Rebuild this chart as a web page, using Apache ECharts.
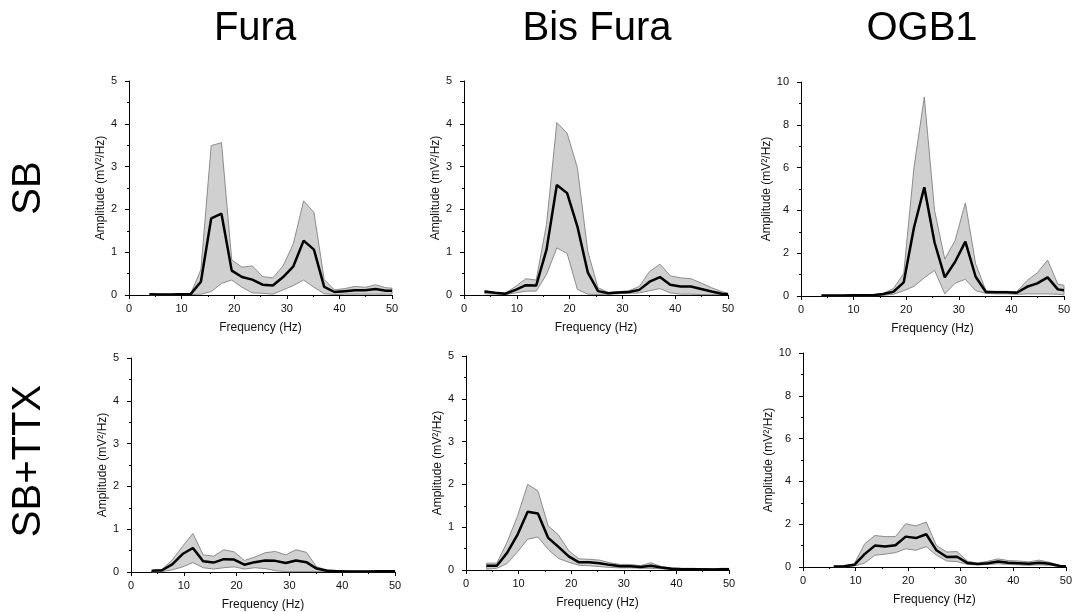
<!DOCTYPE html>
<html>
<head>
<meta charset="utf-8">
<script src="https://cdn.jsdelivr.net/npm/echarts@6/dist/echarts.min.js"></script>
<style>
  html, body { margin: 0; padding: 0; background: #fff; }
  #main { width: 1075px; height: 612px; }
</style>
</head>
<body>
<div id="main"></div>
<script>
// frequency bins (Hz)
var freqs = [3.91, 5.86, 7.81, 9.77, 11.72, 13.67, 15.63, 17.58, 19.53, 21.48, 23.44, 25.39,
  27.34, 29.3, 31.25, 33.2, 35.16, 37.11, 39.06, 41.02, 42.97, 44.92, 46.88, 48.83, 50];

var colTitles = ['Fura', 'Bis Fura', 'OGB1'];
var rowTitles = ['SB', 'SB+TTX'];
var xTicks = [0, 10, 20, 30, 40, 50];

// Fura, SB
var furaSbMean  = [0.02, 0.01, 0.01, 0.02, 0.02, 0.31, 1.79, 1.90, 0.57, 0.42, 0.36, 0.24, 0.22, 0.42, 0.67, 1.27, 1.06, 0.19, 0.07, 0.09, 0.11, 0.11, 0.14, 0.10, 0.10];
var furaSbUpper = [0.03, 0.02, 0.01, 0.03, 0.03, 0.59, 3.49, 3.56, 0.82, 0.65, 0.68, 0.43, 0.40, 0.68, 1.20, 2.20, 1.93, 0.36, 0.12, 0.15, 0.20, 0.18, 0.24, 0.17, 0.16];
var furaSbLower = [0.00, 0.00, 0.00, 0.01, 0.01, 0.02, 0.08, 0.27, 0.35, 0.18, 0.05, 0.04, 0.02, 0.12, 0.22, 0.35, 0.18, 0.03, 0.01, 0.02, 0.02, 0.02, 0.02, 0.02, 0.02];

// Bis Fura, SB
var bisSbMean  = [0.08, 0.05, 0.03, 0.12, 0.23, 0.22, 1.06, 2.57, 2.38, 1.60, 0.53, 0.09, 0.04, 0.06, 0.07, 0.12, 0.31, 0.42, 0.24, 0.20, 0.20, 0.14, 0.08, 0.03, 0.02];
var bisSbUpper = [0.10, 0.06, 0.04, 0.20, 0.38, 0.35, 1.65, 4.03, 3.78, 2.97, 1.02, 0.17, 0.06, 0.08, 0.10, 0.20, 0.55, 0.72, 0.45, 0.40, 0.38, 0.28, 0.17, 0.08, 0.04];
var bisSbLower = [0.03, 0.02, 0.01, 0.05, 0.09, 0.09, 0.48, 1.10, 0.97, 0.13, 0.02, 0.01, 0.02, 0.03, 0.04, 0.05, 0.10, 0.15, 0.05, 0.02, 0.02, 0.01, 0.01, 0.01, 0.01];

// OGB1, SB
var ogbSbMean  = [0.02, 0.02, 0.02, 0.03, 0.03, 0.04, 0.09, 0.20, 0.64, 3.20, 5.08, 2.50, 0.87, 1.60, 2.54, 0.90, 0.19, 0.17, 0.17, 0.15, 0.43, 0.59, 0.87, 0.31, 0.27];
var ogbSbUpper = [0.03, 0.03, 0.03, 0.04, 0.05, 0.06, 0.12, 0.35, 1.05, 6.00, 9.30, 4.00, 1.72, 2.60, 4.35, 1.50, 0.25, 0.22, 0.22, 0.20, 0.72, 1.08, 1.68, 0.55, 0.50];
var ogbSbLower = [0.00, 0.00, 0.00, 0.01, 0.01, 0.01, 0.03, 0.08, 0.25, 0.45, 0.85, 1.20, 0.10, 0.60, 0.78, 0.25, 0.12, 0.10, 0.10, 0.08, 0.10, 0.10, 0.10, 0.08, 0.05];

// Fura, SB+TTX
var furaTtxMean  = [0.03, 0.04, 0.18, 0.42, 0.56, 0.25, 0.22, 0.30, 0.29, 0.17, 0.23, 0.27, 0.26, 0.21, 0.27, 0.23, 0.08, 0.03, 0.02, 0.01, 0.01, 0.01, 0.02, 0.02, 0.02];
var furaTtxUpper = [0.03, 0.06, 0.28, 0.60, 0.90, 0.40, 0.37, 0.52, 0.47, 0.27, 0.35, 0.45, 0.48, 0.40, 0.52, 0.46, 0.12, 0.05, 0.03, 0.02, 0.02, 0.02, 0.03, 0.03, 0.03];
var furaTtxLower = [0.00, 0.01, 0.05, 0.12, 0.22, 0.10, 0.07, 0.10, 0.12, 0.07, 0.10, 0.08, 0.03, 0.01, 0.01, 0.01, 0.01, 0.01, 0.01, 0.00, 0.00, 0.00, 0.01, 0.01, 0.01];

// Bis Fura, SB+TTX
var bisTtxMean  = [0.10, 0.10, 0.40, 0.82, 1.36, 1.32, 0.75, 0.54, 0.32, 0.18, 0.18, 0.16, 0.12, 0.09, 0.09, 0.07, 0.10, 0.06, 0.03, 0.02, 0.02, 0.02, 0.01, 0.02, 0.02];
var bisTtxUpper = [0.16, 0.16, 0.65, 1.25, 2.00, 1.85, 1.03, 0.82, 0.45, 0.26, 0.25, 0.23, 0.17, 0.13, 0.13, 0.10, 0.17, 0.08, 0.05, 0.04, 0.04, 0.03, 0.03, 0.04, 0.04];
var bisTtxLower = [0.02, 0.04, 0.15, 0.42, 0.72, 0.77, 0.48, 0.27, 0.18, 0.11, 0.10, 0.08, 0.06, 0.05, 0.05, 0.04, 0.04, 0.03, 0.01, 0.01, 0.01, 0.01, 0.01, 0.01, 0.01];

// OGB1, SB+TTX (starts at the second bin)
var ogbTtxMean  = [null, 0.02, 0.03, 0.10, 0.60, 1.00, 0.96, 1.02, 1.42, 1.35, 1.53, 0.78, 0.47, 0.48, 0.19, 0.14, 0.18, 0.26, 0.20, 0.18, 0.15, 0.20, 0.15, 0.05, 0.03];
var ogbTtxUpper = [null, 0.03, 0.05, 0.15, 1.08, 1.47, 1.42, 1.42, 2.02, 1.92, 2.10, 1.00, 0.70, 0.72, 0.28, 0.18, 0.27, 0.38, 0.30, 0.28, 0.24, 0.32, 0.22, 0.08, 0.05];
var ogbTtxLower = [null, 0.00, 0.01, 0.05, 0.18, 0.55, 0.60, 0.67, 0.85, 0.78, 0.95, 0.55, 0.28, 0.25, 0.12, 0.10, 0.12, 0.15, 0.12, 0.10, 0.08, 0.10, 0.08, 0.03, 0.01];

var panels = [
  { mean: furaSbMean, upper: furaSbUpper, lower: furaSbLower, yMax: 5, yStep: 1, left: 129, top: 81, width: 263, height: 214 },
  { mean: bisSbMean, upper: bisSbUpper, lower: bisSbLower, yMax: 5, yStep: 1, left: 464, top: 81, width: 264, height: 214 },
  { mean: ogbSbMean, upper: ogbSbUpper, lower: ogbSbLower, yMax: 10, yStep: 2, left: 801, top: 82, width: 263, height: 214 },
  { mean: furaTtxMean, upper: furaTtxUpper, lower: furaTtxLower, yMax: 5, yStep: 1, left: 131, top: 358, width: 264, height: 215 },
  { mean: bisTtxMean, upper: bisTtxUpper, lower: bisTtxLower, yMax: 5, yStep: 1, left: 466, top: 356, width: 263, height: 214 },
  { mean: ogbTtxMean, upper: ogbTtxUpper, lower: ogbTtxLower, yMax: 10, yStep: 2, left: 803, top: 353, width: 264, height: 214 }
];

var FONT = 'Liberation Sans, Arial, sans-serif';

function pairs(vals) {
  var out = [];
  for (var i = 0; i < freqs.length; i++) {
    if (vals[i] != null) out.push([freqs[i], vals[i]]);
  }
  return out;
}

// shaded band between lower and upper, drawn as one polygon through the axis scales
function bandSeries(idx, lower, upper) {
  var rows = [];
  for (var i = 0; i < freqs.length; i++) {
    if (lower[i] != null) rows.push([freqs[i], lower[i], upper[i]]);
  }
  return {
    type: 'custom',
    xAxisIndex: idx,
    yAxisIndex: idx,
    silent: true,
    z: 2,
    data: rows,
    encode: { x: 0, y: [1, 2] },
    renderItem: function (params, api) {
      if (params.dataIndex !== 0) return null;
      var pts = [];
      rows.forEach(function (r) { pts.push(api.coord([r[0], r[2]])); });
      for (var j = rows.length - 1; j >= 0; j--) pts.push(api.coord([rows[j][0], rows[j][1]]));
      return {
        type: 'polygon',
        shape: { points: pts },
        style: { fill: '#d0d0d0', stroke: '#8c8c8c', lineWidth: 1 }
      };
    }
  };
}

var grids = [], xAxes = [], yAxes = [], series = [];
panels.forEach(function (p, i) {
  grids.push({ left: p.left, top: p.top, width: p.width, height: p.height });
  xAxes.push({
    type: 'value', gridIndex: i, min: xTicks[0], max: xTicks[xTicks.length - 1], interval: 10,
    name: 'Frequency (Hz)', nameLocation: 'middle', nameGap: 27,
    nameTextStyle: { fontFamily: FONT, fontSize: 12, color: '#111' },
    axisLine: { onZero: false, lineStyle: { color: '#000', width: 1 } },
    axisTick: { length: 4, lineStyle: { color: '#000' } },
    minorTick: { show: true, splitNumber: 2, length: 2, lineStyle: { color: '#000' } },
    axisLabel: { fontFamily: FONT, fontSize: 11, color: '#111', margin: 8 },
    splitLine: { show: false }
  });
  yAxes.push({
    type: 'value', gridIndex: i, min: 0, max: p.yMax, interval: p.yStep,
    name: 'Amplitude (mV²/Hz)', nameLocation: 'middle', nameGap: 18,
    nameTextStyle: { fontFamily: FONT, fontSize: 12, color: '#111' },
    axisLine: { show: true, onZero: false, lineStyle: { color: '#000', width: 1 } },
    axisTick: { show: true, length: 4, lineStyle: { color: '#000' } },
    minorTick: { show: true, splitNumber: 2, length: 2, lineStyle: { color: '#000' } },
    axisLabel: { fontFamily: FONT, fontSize: 11, color: '#111', margin: 12 },
    splitLine: { show: false }
  });
  series.push(bandSeries(i, p.lower, p.upper));
  series.push({
    type: 'line', xAxisIndex: i, yAxisIndex: i, z: 3,
    data: pairs(p.mean),
    showSymbol: false, silent: true,
    lineStyle: { color: '#000', width: 2.5 }
  });
});

var colX = [255, 597, 922];
var rowY = [188, 461];
var labels = [];
colTitles.forEach(function (t, i) {
  labels.push({
    type: 'text', x: colX[i], y: 29,
    style: { text: t, fontFamily: FONT, fontSize: 40, fill: '#000', textAlign: 'center', textVerticalAlign: 'middle' }
  });
});
rowTitles.forEach(function (t, i) {
  labels.push({
    type: 'text', x: 29, y: rowY[i], rotation: Math.PI / 2,
    style: { text: t, fontFamily: FONT, fontSize: 40, fill: '#000', textAlign: 'center', textVerticalAlign: 'middle' }
  });
});

var chart = echarts.init(document.getElementById('main'), null, { renderer: 'canvas' });
chart.setOption({
  animation: false,
  backgroundColor: '#fff',
  grid: grids,
  xAxis: xAxes,
  yAxis: yAxes,
  series: series,
  graphic: labels
});
</script>
</body>
</html>
